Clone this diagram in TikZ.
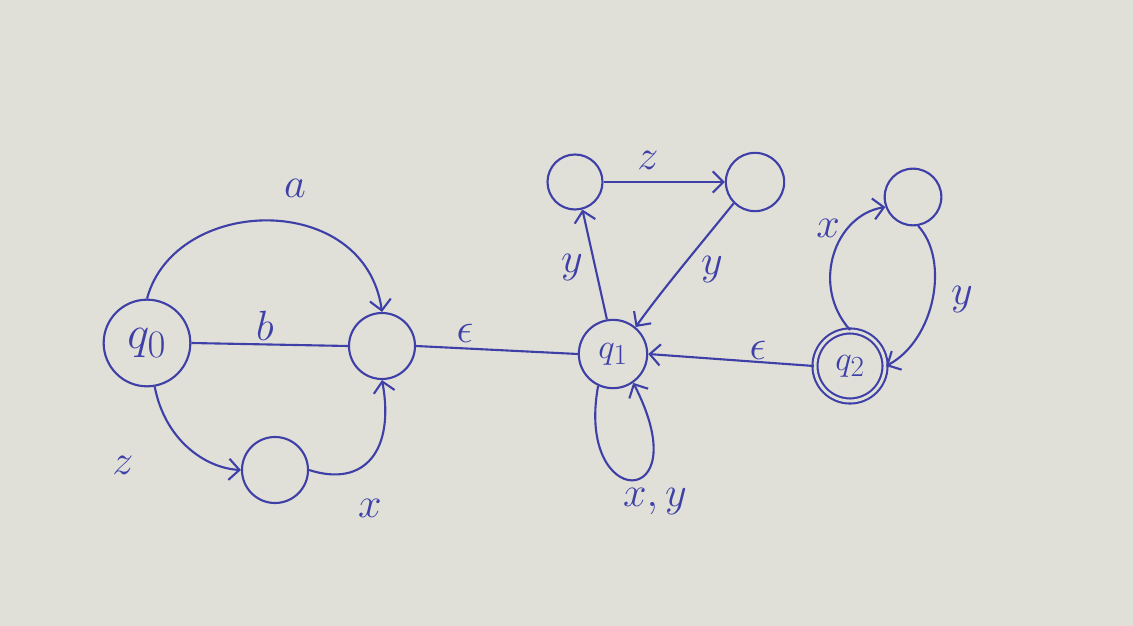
\documentclass[tikz,border=0pt]{standalone}
\usepackage{graphicx}
\usetikzlibrary{arrows.meta}
\definecolor{inkc}{RGB}{62,64,168}
\definecolor{paper}{RGB}{224,224,216}
\begin{document}
\begin{tikzpicture}[x=0.03cm,y=-0.03cm,
  ink/.style={draw=inkc, line width=1.8pt},
  st/.style={circle, ink, inner sep=0pt, text=inkc, font=\Huge},
  acc/.style={st, double=paper, double distance=2.5pt},
  edge/.style={ink, -{Straight Barb[length=9pt,width=18pt,line width=1.8pt]}},
  plain/.style={ink},
  lab/.style={text=inkc, font=\Huge, scale=1.45}]
\fill[paper] (0,0) rectangle (1133,626);
\useasboundingbox (0,0) rectangle (1133,626);
% states
\node[st, minimum size=2.6cm] (q0) at (147,343) {\scalebox{1.6}{$q_0$}};
\node[st, minimum size=1.98cm] (A) at (382,346) {};
\node[st, minimum size=1.98cm] (B) at (275,470) {};
\node[st, minimum size=2.05cm] (q1) at (613,354) {\scalebox{1.2}{$q_1$}};
\node[st, minimum size=1.65cm] (C) at (575,182) {};
\node[st, minimum size=1.75cm] (D) at (755,182) {};
\node[st, minimum size=1.7cm] (E) at (913,197) {};
\node[acc, minimum size=2.1cm] (q2) at (850,366) {\scalebox{1.2}{$q_2$}};
% transitions
\draw[edge] (q0.north) .. controls (175,195) and (365,190) .. (A.north);
\draw[plain] (q0.east) -- (A.west);
\draw[edge] (q0.-80) .. controls (165,440) and (205,468) .. (B.west);
\draw[edge] (B.east) .. controls (365,488) and (395,450) .. (A.south);
\draw[plain] (A.east) -- (q1.west);
\draw[edge] (q1.100) -- (C.-75);
\draw[edge] (C.east) -- (D.west);
\draw[edge] (D.-135) .. controls (700,245) and (662,290) .. (q1.50);
\draw[edge] (q2.west) -- (q1.east);
\draw[edge] (q1.-115) .. controls (575,512) and (700,512) .. (q1.-55);
\draw[edge] (q2.north) .. controls (810,285) and (835,215) .. (E.-160);
\draw[edge] (E.-80) .. controls (950,260) and (935,340) .. (q2.east);
% labels
\node[lab] (la) at (295,188) {$a$};
\node[lab] (lb) at (265,326) {$b$};
\node[lab] (lz) at (123,465) {$z$};
\node[lab] (lx) at (370,508) {$x$};
\node[lab] (le1) at (465,333) {$\epsilon$};
\node[lab] (ly1) at (572,268) {$y$};
\node[lab] (lz2) at (648,160) {$z$};
\node[lab] (ly2) at (712,270) {$y$};
\node[lab] (le2) at (758,350) {$\epsilon$};
\node[lab] (lxy) at (655,502) {$x,y$};
\node[lab] (lx2) at (828,228) {$x$};
\node[lab] (ly3) at (962,300) {$y$};
\end{tikzpicture}
\end{document}
